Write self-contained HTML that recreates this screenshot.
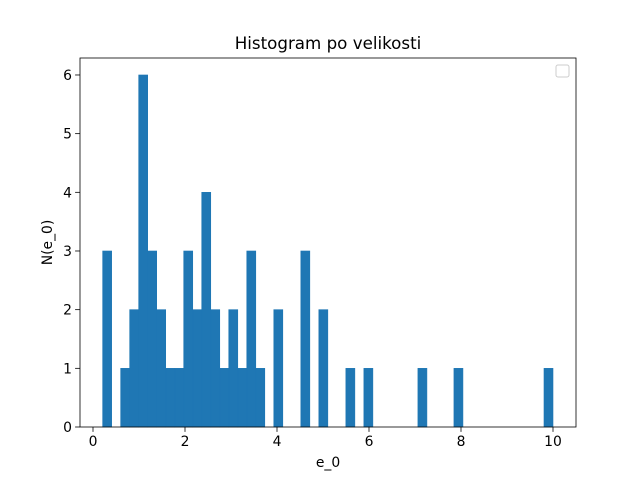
<!DOCTYPE html>
<html><head><meta charset="utf-8"><style>
body{margin:0;background:#fff;}
svg text{font-family:"DejaVu Sans","Liberation Sans",sans-serif;font-size:13.9px;fill:#000;}
</style></head><body>
<svg id="chart" width="640" height="480" xmlns="http://www.w3.org/2000/svg">
<rect width="640" height="480" fill="#fff"/>
<text x="328" y="49" text-anchor="middle" style="font-size:16.7px">Histogram po velikosti</text>
<g id="bars"></g>
<g id="axes"></g>
<rect x="556" y="65" width="13" height="12" rx="2" fill="#fff" stroke="#ccc"/>
<text x="328" y="467" text-anchor="middle">e_0</text>
<text transform="translate(52,242.5) rotate(-90)" text-anchor="middle">N(e_0)</text>
</svg>
<script>
const binStart = 0.21;
const binWidth = 0.1958;
const counts = [3,0,1,2,6,3,2,1,1,3,2,4,2,1,2,1,3,1,0,2,0,0,3,0,2,0,0,1,0,1,0,0,0,0,0,1,0,0,0,1,0,0,0,0,0,0,0,0,0,1];
const xTicks = [0,2,4,6,8,10];
const yTicks = [0,1,2,3,4,5,6];
const L=80,R=576,T=58,B=427;
const x = v => 93 + v*46;
const y = v => 427 - v*58.67;
const ns="http://www.w3.org/2000/svg";
const bars=document.getElementById('bars');
counts.forEach((c,i)=>{
  if(!c) return;
  const r=document.createElementNS(ns,'rect');
  const x0=x(binStart+i*binWidth), x1=x(binStart+(i+1)*binWidth);
  r.setAttribute('x',x0);r.setAttribute('width',x1-x0);
  r.setAttribute('y',y(c));r.setAttribute('height',y(0)-y(c));
  r.setAttribute('fill','#1f77b4');
  r.setAttribute('stroke','#1f77b4');
  r.setAttribute('stroke-width','0.6');
  
  
  bars.appendChild(r);
});
const ax=document.getElementById('axes');
function el(tag,attrs,text){const e=document.createElementNS(ns,tag);for(const k in attrs)e.setAttribute(k,attrs[k]);if(text!==undefined)e.textContent=text;ax.appendChild(e);return e;}
const frame=el('rect',{x:L,y:T,width:R-L,height:B-T,fill:'none',stroke:'#000','stroke-width':0.8});


xTicks.forEach(t=>{
  const ln=el('line',{x1:x(t),x2:x(t),y1:B,y2:B+4.9,stroke:'#000','stroke-width':0.8});
  
  
  const tx=el('text',{x:x(t),y:B+19,'text-anchor':'middle'},String(t));
  
  
});
yTicks.forEach(t=>{
  const ln=el('line',{x1:L-4.9,x2:L,y1:y(t),y2:y(t),stroke:'#000','stroke-width':0.8});
  
  
  const tx=el('text',{x:L-8,y:y(t)+5,'text-anchor':'end'},String(t));
  
  
});
</script>
</body></html>
